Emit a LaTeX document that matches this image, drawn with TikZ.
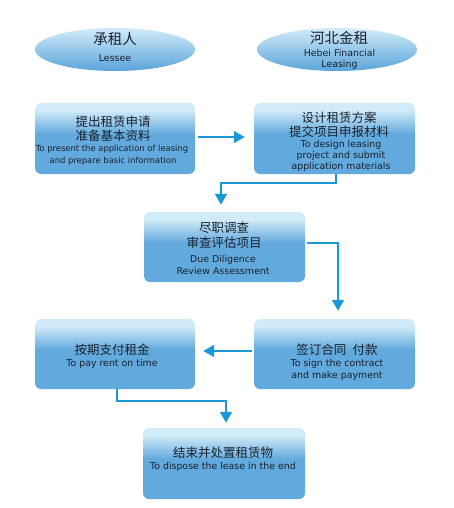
\documentclass[tikz,border=0pt]{standalone}
\usepackage{fontspec}
\setmainfont{DejaVu Sans}
\newfontfamily\cjk{Noto Sans CJK SC}
\usetikzlibrary{arrows.meta,shapes.geometric}
\definecolor{boxblue}{HTML}{62A9DD}
\definecolor{boxlight}{HTML}{D2EBF9}
\definecolor{ellblue}{HTML}{5AA4DA}
\definecolor{arrowblue}{HTML}{1B98D5}
\definecolor{txt}{HTML}{18222E}
\pgfdeclareverticalshading{boxshade}{100bp}{color(0bp)=(boxblue); color(25bp)=(boxblue); color(53bp)=(boxblue); color(70bp)=(boxlight); color(75bp)=(boxlight); color(100bp)=(boxlight)}
\pgfdeclareverticalshading{ellshade}{100bp}{color(0bp)=(ellblue); color(25bp)=(ellblue); color(75bp)=(boxlight); color(100bp)=(boxlight)}
\tikzset{
  stepbox/.style={rectangle, rounded corners=6pt, minimum width=160pt, minimum height=71pt, shading=boxshade, draw=none, inner sep=0pt},
  party/.style={ellipse, minimum width=160pt, minimum height=43pt, shading=ellshade, draw=none, inner sep=0pt},
  zh/.style={anchor=base, inner sep=0pt, text=txt, font=\fontsize{12.5}{14}\cjk},
  zhbig/.style={anchor=base, inner sep=0pt, text=txt, font=\fontsize{14.5}{16}\cjk},
  en/.style={anchor=base, inner sep=0pt, text=txt, font=\fontsize{9.4}{11}\selectfont},
  ensmall/.style={anchor=base, inner sep=0pt, text=txt, font=\fontsize{8.4}{10}\selectfont},
  flow/.style={draw=arrowblue, line width=1.8pt, -{Triangle[width=12pt,length=11pt]}},
}
\begin{document}
\begin{tikzpicture}[x=1pt,y=-1pt]
\useasboundingbox (0,0) rectangle (454,508);
% parties
\node[party] (ell1) at (115,49.5) {};
\node[party] (ell2) at (337,49.5) {};
\node[zhbig] (e1a) at (115,45) {承租人};
\node[en] (e1b) at (115,62) {Lessee};
\node[zhbig] (e2a) at (339,44) {河北金租};
\node[en] (e2b) at (339.5,57) {Hebei Financial};
\node[en] (e2c) at (339.5,68) {Leasing};
% boxes
\node[stepbox] (box1) at (115,138.5) {};
\node[stepbox, minimum width=161pt] (box2) at (334.5,138.5) {};
\node[stepbox, minimum width=161pt, minimum height=70pt] (box3) at (224.5,247) {};
\node[stepbox, minimum height=70pt] (box4) at (115,354) {};
\node[stepbox, minimum width=161pt, minimum height=70pt] (box5) at (334.5,354) {};
\node[stepbox, minimum width=162pt] (box6) at (224,463.5) {};
% box texts
\node[zh] (t1a) at (113,126) {提出租赁申请};
\node[zh] (t1b) at (113,140) {准备基本资料};
\node[ensmall] (t1c) at (112,151) {To present the application of leasing};
\node[ensmall] (t1d) at (113,163) {and prepare basic information};
\node[zh] (t2a) at (339,122) {设计租赁方案};
\node[zh] (t2b) at (339,136) {提交项目申报材料};
\node[en] (t2c) at (341,147.5) {To design leasing};
\node[en] (t2d) at (341,158.5) {project and submit};
\node[en] (t2e) at (341,169.5) {application materials};
\node[zh] (t3a) at (224,232) {尽职调查};
\node[zh] (t3b) at (224,247) {审查评估项目};
\node[en] (t3c) at (223,262.5) {Due Diligence};
\node[en] (t3d) at (223,274.5) {Review Assessment};
\node[zh] (t4a) at (112,354) {按期支付租金};
\node[en] (t4b) at (112,366) {To pay rent on time};
\node[zh] (t5a) at (337,354) {签订合同\hspace{0.5em}付款};
\node[en] (t5b) at (337,366) {To sign the contract};
\node[en] (t5c) at (337,378) {and make payment};
\node[zh] (t6a) at (223,457) {结束并处置租赁物};
\node[en] (t6b) at (223,469) {To dispose the lease in the end};
% connectors
\draw[flow, shorten <=3pt, shorten >=9pt] ([yshift=1.5]box1.east) -- ([yshift=1.5]box2.west);
\draw[flow, shorten >=7pt] ([xshift=1.5]box2.south) -- ++(0,9) -| ([xshift=-3.5]box3.north);
\draw[flow, shorten <=2pt, shorten >=8pt] ([yshift=4]box3.east) -| ([xshift=3.5]box5.north);
\draw[flow, shorten <=2pt, shorten >=8pt] ([yshift=3]box5.west) -- ([yshift=3]box4.east);
\draw[flow, shorten >=5pt] ([xshift=2]box4.south) -- ++(0,12) -| ([xshift=2]box6.north);
\end{tikzpicture}
\end{document}
